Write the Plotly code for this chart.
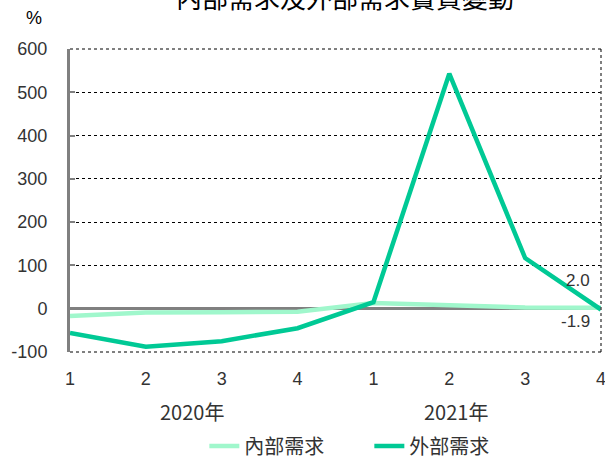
import plotly.graph_objects as go

quarters = ["1", "2", "3", "4", "1", "2", "3", "4"]
years = ["2020年", "2021年"]
internal = [-17, -9, -8, -7, 13, 7, 3, 2.0]
external = [-56, -88, -75, -45, 15, 543, 117, -1.9]
series_names = ["內部需求", "外部需求"]
title_text = "內部需求及外部需求實質變動"
y_ticks = [-100, 0, 100, 200, 300, 400, 500, 600]

x = list(range(len(quarters)))
font_family = "Liberation Sans, Arial, Noto Sans CJK TC"
cjk = "Noto Sans CJK TC, Liberation Sans"

fig = go.Figure()
fig.add_trace(go.Scatter(x=x, y=internal, mode="lines", name=series_names[0],
                         line=dict(color="#a0f7cc", width=4.5)))
fig.add_trace(go.Scatter(x=x, y=external, mode="lines", name=series_names[1],
                         line=dict(color="#00c995", width=4.5)))

annotations = [
    dict(text=title_text, xref="paper", yref="paper", x=0.518, y=1.172,
         xanchor="center", yanchor="middle", showarrow=False,
         font=dict(size=26, color="#000000", family=cjk)),
    dict(text="%", xref="paper", yref="paper", x=-0.068, y=1.102,
         xanchor="center", yanchor="middle", showarrow=False,
         font=dict(size=18, color="#000000", family=font_family)),
    dict(text=f"{internal[-1]:.1f}", x=x[-1], y=internal[-1], xref="x", yref="y",
         xanchor="right", yanchor="middle", yshift=27, xshift=-9, showarrow=False,
         font=dict(size=17, color="#333333", family=font_family)),
    dict(text=f"{external[-1]:.1f}", x=x[-1], y=external[-1], xref="x", yref="y",
         xanchor="right", yanchor="middle", yshift=-12, xshift=-9, showarrow=False,
         font=dict(size=17, color="#333333", family=font_family)),
    dict(text=years[0], x=1.61, y=-0.195, xref="x", yref="paper",
         xanchor="center", yanchor="middle", showarrow=False,
         font=dict(size=20, color="#333333", family=cjk)),
    dict(text=years[1], x=5.09, y=-0.195, xref="x", yref="paper",
         xanchor="center", yanchor="middle", showarrow=False,
         font=dict(size=20, color="#333333", family=cjk)),
]

shapes = [
    dict(type="line", xref="paper", yref="paper", x0=1, x1=1, y0=0, y1=1,
         line=dict(color="#555555", width=1.5, dash="dot")),
    dict(type="line", xref="paper", yref="paper", x0=0, x1=1, y0=0, y1=0,
         line=dict(color="#000000", width=1, dash="dot")),
    dict(type="line", xref="paper", yref="paper", x0=0, x1=1, y0=1, y1=1,
         line=dict(color="#000000", width=1, dash="dot")),
]

fig.update_layout(
    width=605, height=459,
    margin=dict(l=70, r=4, t=49, b=107, autoexpand=False),
    paper_bgcolor="white", plot_bgcolor="white",
    showlegend=True,
    legend=dict(orientation="h", x=0.253, xanchor="left", y=-0.31, yanchor="middle",
                font=dict(size=20, color="#333333", family=cjk),
                entrywidth=120, entrywidthmode="pixels",
                tracegroupgap=0),
    annotations=annotations,
    shapes=shapes,
    xaxis=dict(range=[0, 7], tickmode="array", tickvals=x, ticktext=quarters,
               showgrid=False, zeroline=False, showline=False, ticks="",
               automargin=False, ticklabelstandoff=14, ticklabeloverflow="allow",
               tickfont=dict(size=18, color="#333333", family=font_family)),
    yaxis=dict(range=[-100, 600], tickmode="array", tickvals=y_ticks,
               ticktext=[str(v) for v in y_ticks],
               showgrid=True, gridcolor="#000000",
               griddash="dot", gridwidth=1,
               zeroline=True, zerolinecolor="#808080", zerolinewidth=3,
               showline=True, linecolor="#808080", linewidth=3,
               ticks="inside", ticklen=5, tickcolor="#808080", tickwidth=2,
               automargin=False, ticklabelstandoff=16,
               tickfont=dict(size=18, color="#333333", family=font_family)),
)

fig.write_html("out.html", config={"displayModeBar": False},
               post_script="document.body.style.margin='0';")
